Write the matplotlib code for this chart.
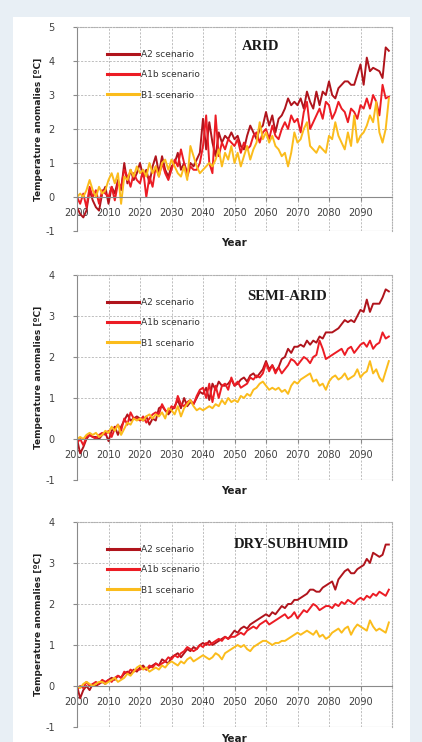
import numpy as np
import matplotlib
matplotlib.use("Agg")
import matplotlib.pyplot as plt
from matplotlib.patches import Rectangle

years = np.arange(2000, 2100)

# ---- ARID ----
arid_a2 = [-0.3, -0.5, -0.6, -0.4, 0.2, -0.1, -0.3, -0.4, 0.1, 0.3,
           -0.2, 0.3, 0.1, 0.5, 0.2, 1.0, 0.4, 0.8, 0.5, 0.7,
           1.0, 0.6, 0.8, 0.4, 0.9, 1.2, 0.7, 1.2, 0.8, 0.6,
           0.9, 1.0, 1.3, 0.8, 1.0, 0.7, 1.0, 0.9, 1.1, 1.3,
           2.3, 1.4, 2.2, 1.6, 1.2, 1.9, 1.6, 1.8, 1.7, 1.9,
           1.7, 1.8, 1.5, 1.4, 1.8, 2.1, 1.9, 1.7, 2.0, 2.1,
           2.5, 2.1, 2.4, 1.9, 2.3, 2.4, 2.6, 2.9, 2.7, 2.8,
           2.7, 2.9, 2.6, 3.1, 2.8, 2.6, 3.1, 2.7, 3.1, 3.0,
           3.4, 3.0, 2.9, 3.2, 3.3, 3.4, 3.4, 3.3, 3.3, 3.6,
           3.9, 3.3, 4.1, 3.7, 3.8, 3.75, 3.7, 3.5, 4.4, 4.3]
arid_a1b = [0.0, -0.2, 0.1, -0.3, 0.3, 0.0, 0.2, -0.2, 0.2, 0.1,
            0.0, 0.3, -0.1, 0.4, 0.3, 0.8, 0.6, 0.3, 0.7, 0.5,
            0.4, 0.8, 0.0, 0.6, 0.3, 0.9, 0.6, 1.0, 0.7, 0.5,
            0.8, 1.1, 0.9, 1.4, 1.0, 0.6, 0.9, 0.8, 0.8, 1.0,
            1.5, 2.4, 1.0, 0.7, 2.4, 1.2, 1.6, 1.4, 1.7, 1.6,
            1.5, 1.7, 1.3, 1.6, 1.4, 1.5, 1.8, 1.9, 1.6, 1.9,
            2.0, 1.7, 2.1, 1.8, 1.7, 2.0, 2.2, 2.0, 2.4, 2.2,
            2.3, 1.9, 2.5, 2.8, 2.0, 2.2, 2.4, 2.6, 2.3, 2.8,
            2.7, 2.3, 2.5, 2.8, 2.6, 2.5, 2.2, 2.6, 2.5, 2.3,
            2.7, 2.6, 2.9, 2.6, 3.0, 2.8, 2.4, 3.3, 2.9, 2.95]
arid_b1 = [0.0, 0.1, 0.0, 0.2, 0.5, 0.2, 0.0, 0.3, 0.1, 0.2,
           0.5, 0.7, 0.4, 0.7, -0.2, 0.6, 0.5, 0.8, 0.6, 0.9,
           0.7, 0.8, 0.6, 1.0, 0.7, 0.9, 0.6, 1.0, 1.1, 0.8,
           1.1, 0.9, 0.7, 0.6, 0.9, 0.5, 1.5, 1.2, 0.9, 0.7,
           0.8, 0.9, 1.0, 0.9, 1.1, 1.4, 0.9, 1.3, 1.1, 1.5,
           1.0, 1.3, 0.9, 1.2, 1.5, 1.1, 1.4, 1.6, 2.2, 1.7,
           1.9, 1.6, 1.8, 1.5, 1.4, 1.2, 1.3, 0.9, 1.3, 1.9,
           1.6, 1.7, 2.0, 2.2, 1.5, 1.4, 1.3, 1.5, 1.4, 1.3,
           1.8, 1.7, 2.2, 1.8, 1.6, 1.4, 1.9, 1.5, 2.4, 1.6,
           1.8, 1.9, 2.1, 2.4, 2.2, 2.8, 1.9, 1.6, 2.0, 2.9]

# ---- SEMI-ARID ----
semi_a2 = [0.0, -0.35, -0.2, 0.0, 0.1, 0.05, 0.05, 0.0, 0.1, 0.15,
           -0.05, 0.2, 0.3, 0.1, 0.3, 0.45, 0.6, 0.45, 0.5, 0.55,
           0.5, 0.45, 0.55, 0.35, 0.5, 0.45, 0.75, 0.8, 0.7, 0.6,
           0.7, 0.8, 0.95, 0.75, 1.0, 0.8, 0.9, 0.85, 1.0, 1.15,
           1.1, 1.25, 0.95, 1.35, 1.2, 1.4, 1.3, 1.3, 1.35, 1.45,
           1.3, 1.35, 1.45, 1.5, 1.4, 1.55, 1.6, 1.5, 1.6, 1.7,
           1.9, 1.7, 1.8, 1.65, 1.75, 1.95, 2.0, 2.2, 2.1, 2.25,
           2.25, 2.3, 2.25, 2.4, 2.3, 2.4, 2.35, 2.5, 2.45, 2.6,
           2.6, 2.6, 2.65, 2.7, 2.8, 2.9, 2.85, 2.9, 2.85, 3.0,
           3.15, 3.1, 3.4, 3.1, 3.3, 3.3, 3.3, 3.45, 3.65, 3.6]
semi_a1b = [-0.1, 0.0, -0.15, 0.05, 0.1, 0.05, 0.0, 0.1, 0.15, 0.1,
            0.2, 0.05, 0.25, 0.35, 0.2, 0.5, 0.35, 0.65, 0.5, 0.5,
            0.45, 0.55, 0.4, 0.5, 0.6, 0.65, 0.6, 0.85, 0.7, 0.65,
            0.8, 0.75, 1.05, 0.85, 0.8, 0.9, 0.95, 0.85, 1.05, 1.2,
            1.25, 1.0, 1.35, 0.9, 1.3, 1.0, 1.3, 1.35, 1.2, 1.5,
            1.3, 1.4, 1.25, 1.3, 1.35, 1.5, 1.45, 1.55, 1.5, 1.6,
            1.85, 1.65, 1.8, 1.6, 1.75, 1.6, 1.7, 1.8, 1.95, 1.9,
            1.8, 1.9, 2.0, 1.95, 1.85, 2.0, 2.05, 2.4, 2.2, 1.95,
            2.0, 2.05, 2.1, 2.15, 2.2, 2.05, 2.2, 2.25, 2.1, 2.2,
            2.3, 2.35, 2.25, 2.4, 2.2, 2.3, 2.35, 2.6, 2.45, 2.5]
semi_b1 = [0.0, 0.05, 0.0, 0.1, 0.15, 0.1, 0.15, 0.05, 0.1, 0.2,
           0.15, 0.3, 0.2, 0.35, 0.1, 0.25, 0.4, 0.35, 0.5, 0.45,
           0.5, 0.45, 0.55, 0.6, 0.5, 0.6, 0.55, 0.65, 0.5, 0.75,
           0.7, 0.6, 0.8, 0.55, 0.75, 0.85, 0.95, 0.8, 0.7, 0.75,
           0.7, 0.75, 0.8, 0.75, 0.85, 0.8, 0.95, 0.85, 1.0, 0.9,
           0.95, 0.9, 1.05, 1.0, 1.1, 1.05, 1.2, 1.25, 1.35, 1.4,
           1.3, 1.2, 1.25, 1.2, 1.25, 1.15, 1.2, 1.1, 1.3, 1.4,
           1.35, 1.45, 1.5, 1.55, 1.6, 1.4, 1.45, 1.3, 1.35, 1.2,
           1.4, 1.5, 1.55, 1.45, 1.5, 1.6, 1.45, 1.5, 1.55, 1.7,
           1.5, 1.6, 1.65, 1.9, 1.6, 1.7, 1.5, 1.4, 1.65, 1.9]

# ---- DRY-SUBHUMID ----
dry_a2 = [0.0, -0.3, -0.1, 0.0, -0.1, 0.05, 0.0, 0.05, 0.1, 0.05,
          0.15, 0.2, 0.15, 0.25, 0.2, 0.3, 0.35, 0.3, 0.4, 0.35,
          0.45, 0.5, 0.4, 0.45, 0.5, 0.55, 0.5, 0.65, 0.6, 0.55,
          0.7, 0.75, 0.8, 0.7, 0.8, 0.9, 0.85, 0.95, 0.9, 1.0,
          1.05, 1.0, 1.1, 1.0, 1.05, 1.1, 1.15, 1.2, 1.15, 1.25,
          1.35, 1.3, 1.4, 1.45, 1.4, 1.5, 1.55, 1.6, 1.65, 1.7,
          1.75, 1.7, 1.8, 1.75, 1.85, 1.95, 1.9, 2.0, 2.0, 2.1,
          2.1, 2.15, 2.2, 2.25, 2.35, 2.35, 2.3, 2.3, 2.4, 2.45,
          2.5, 2.55, 2.35, 2.6, 2.7, 2.8, 2.85, 2.75, 2.75, 2.85,
          2.9, 2.95, 3.1, 3.0, 3.25, 3.2, 3.15, 3.2, 3.45, 3.45]
dry_a1b = [-0.1, 0.0, -0.05, 0.1, 0.0, 0.05, 0.1, 0.05, 0.15, 0.1,
           0.15, 0.1, 0.2, 0.25, 0.2, 0.35, 0.3, 0.4, 0.35, 0.4,
           0.4, 0.45, 0.4, 0.5, 0.45, 0.55, 0.5, 0.55, 0.6, 0.7,
           0.65, 0.75, 0.7, 0.8, 0.85, 0.95, 0.9, 0.85, 0.9, 1.0,
           0.95, 1.05, 1.0, 1.05, 1.1, 1.15, 1.1, 1.2, 1.15, 1.2,
           1.2, 1.25, 1.3, 1.25, 1.35, 1.4, 1.45, 1.4, 1.5, 1.55,
           1.6, 1.5, 1.55, 1.6, 1.65, 1.7, 1.75, 1.65, 1.7, 1.8,
           1.65, 1.75, 1.85, 1.8, 1.9, 2.0, 1.95, 1.85, 1.9, 1.95,
           1.95, 1.9, 2.0, 1.95, 2.05, 2.0, 2.1, 2.05, 2.0, 2.1,
           2.15, 2.1, 2.2, 2.15, 2.25, 2.2, 2.3, 2.25, 2.2, 2.35]
dry_b1 = [0.0, -0.05, 0.05, 0.1, 0.05, 0.0, 0.05, 0.1, 0.1, 0.05,
          0.1, 0.15, 0.2, 0.1, 0.15, 0.2, 0.3, 0.25, 0.35, 0.45,
          0.5, 0.4, 0.45, 0.35, 0.4, 0.45, 0.4, 0.5, 0.45, 0.55,
          0.6, 0.55, 0.5, 0.6, 0.55, 0.65, 0.7, 0.6, 0.65, 0.7,
          0.75, 0.7, 0.65, 0.7, 0.8, 0.75, 0.65, 0.8, 0.85, 0.9,
          0.95, 1.0, 0.95, 1.0, 0.9, 0.85, 0.95, 1.0, 1.05, 1.1,
          1.1, 1.05, 1.0, 1.05, 1.05, 1.1, 1.1, 1.15, 1.2, 1.25,
          1.3, 1.25, 1.3, 1.35, 1.3, 1.25, 1.35, 1.2, 1.25, 1.15,
          1.2, 1.3, 1.35, 1.4, 1.3, 1.4, 1.45, 1.25, 1.4, 1.5,
          1.45, 1.4, 1.35, 1.6, 1.45, 1.35, 1.4, 1.35, 1.3, 1.55]

labels = ["A2 scenario", "A1b scenario", "B1 scenario"]
colors = ["#b0141c", "#ec1c24", "#fbbc1c"]

W, H = 422, 742
fig = plt.figure(figsize=(W / 100, H / 100), dpi=100, facecolor="#e8eff5")
fig.patches.append(Rectangle((13 / W, 0), (410 - 13) / W, 1 - 17 / H,
                             transform=fig.transFigure, facecolor="white",
                             edgecolor="none", zorder=-10))


def panel(top, bottom, ymax, series, title, tx, ty):
    ax = fig.add_axes([77 / W, 1 - bottom / H, 315 / W, (bottom - top) / H])
    ax.set_facecolor("white")
    for vals, lab, c in zip(series, labels, colors):
        ax.plot(years, vals, color=c, lw=1.4, label=lab)
    ax.set_xlim(2000, 2100)
    ax.set_ylim(-1, ymax)
    ax.set_xticks(range(2000, 2100, 10))
    ax.set_yticks(range(-1, ymax + 1))
    ax.set_yticklabels([str(v) for v in range(-1, ymax + 1)])
    ax.grid(True, color="#b4b4b4", lw=0.6, linestyle=(0, (2.5, 1.8)))
    ax.spines["bottom"].set_position(("data", 0))
    for s in ["left", "bottom"]:
        ax.spines[s].set_color("#8a8a8a")
        ax.spines[s].set_linewidth(0.8)
    for s in ["top", "right"]:
        ax.spines[s].set_color("#b0b0b0")
        ax.spines[s].set_linestyle((0, (1, 1.5)))
    ax.axhline(-1, color="#b0b0b0", lw=0.8)
    ax.tick_params(axis="x", labelsize=7, colors="#8a8a8a", labelcolor="#404040",
                   length=3, pad=5)
    ax.tick_params(axis="y", labelsize=7, colors="#8a8a8a", labelcolor="#404040",
                   length=3, pad=13)
    ax.set_ylabel("Temperature anomalies [ºC]", fontsize=6.5, fontweight="bold",
                  color="#202020")
    ax.yaxis.set_label_coords(-0.108, 0.5)
    ax.text(0.5, -11.5 / (bottom - top), "Year", transform=ax.transAxes,
            ha="center", va="center", fontsize=7.5, fontweight="bold", color="#202020")
    ax.text(tx, ty, title, transform=ax.transAxes, ha="center", va="center",
            fontsize=10.5, fontweight="bold", family="Liberation Serif", color="#1a1a1a")
    leg = ax.legend(loc="upper left", bbox_to_anchor=(0.095, 1 - 23 / (bottom - top)),
                    frameon=False, fontsize=6.5, handlelength=3.6, labelspacing=1.25,
                    handletextpad=0.15, borderpad=0, borderaxespad=0)
    for t in leg.get_texts():
        t.set_color("#333333")
    for h in leg.get_lines():
        h.set_linewidth(2.2)
    return ax


panel(27, 231, 5, [arid_a2, arid_a1b, arid_b1], "ARID", 0.584, 0.902)
panel(275, 480, 4, [semi_a2, semi_a1b, semi_b1], "SEMI-ARID", 0.667, 0.893)
panel(522, 727, 4, [dry_a2, dry_a1b, dry_b1], "DRY-SUBHUMID", 0.679, 0.888)

fig.savefig("out.png", dpi=100, facecolor=fig.get_facecolor())
